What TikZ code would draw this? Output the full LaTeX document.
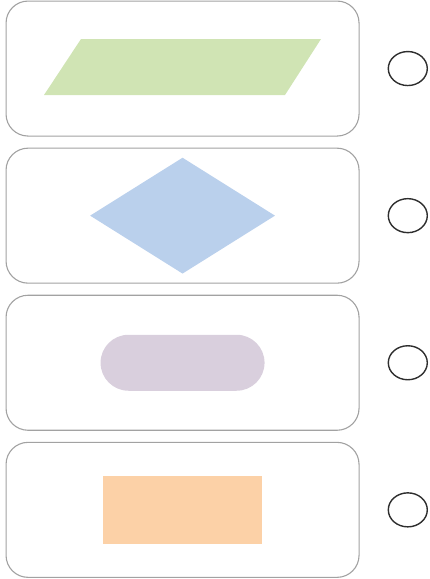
\documentclass[tikz,border=0pt]{standalone}
\usetikzlibrary{positioning,shapes.geometric}
\definecolor{frame}{HTML}{A2A2A2}
\definecolor{leaf}{HTML}{D0E4B4}
\definecolor{sky}{HTML}{BAD0EC}
\definecolor{lilac}{HTML}{D9CFDD}
\definecolor{peach}{HTML}{FCD1A7}
\definecolor{ring}{HTML}{2E2E2E}
\begin{document}
\begin{tikzpicture}[x=1pt,y=-1pt,
  card/.style={draw=frame,line width=1.1pt,rounded corners=22pt,minimum width=353pt,minimum height=135pt,inner sep=0pt},
  tick/.style={ellipse,draw=ring,line width=1.4pt,minimum width=39pt,minimum height=34pt,inner sep=0pt},
  node distance=11pt]
\useasboundingbox (0,0) rectangle (430,579);
% cards
\node[card,anchor=north west] (card1) at (5.5,0.5) {};
\node[card,below=of card1] (card2) {};
\node[card,below=of card2] (card3) {};
\node[card,below=of card3] (card4) {};
% radio circles
\node[tick,right=28pt of card1] (tick1) {};
\node[tick,right=28pt of card2] (tick2) {};
\node[tick,right=28pt of card3] (tick3) {};
\node[tick,right=28pt of card4] (tick4) {};
% shapes
\fill[leaf] (44,95) -- (81,39) -- (321,39) -- (285,95) -- cycle;
\node[diamond,fill=sky,inner sep=0pt,minimum width=185pt,minimum height=116pt] (choice) at (card2) {};
\node[fill=lilac,rounded corners=28pt,inner sep=0pt,minimum width=164pt,minimum height=56pt] (term) at (card3) {};
\node[fill=peach,inner sep=0pt,minimum width=159pt,minimum height=68pt] (proc) at (card4) {};
\end{tikzpicture}
\end{document}
